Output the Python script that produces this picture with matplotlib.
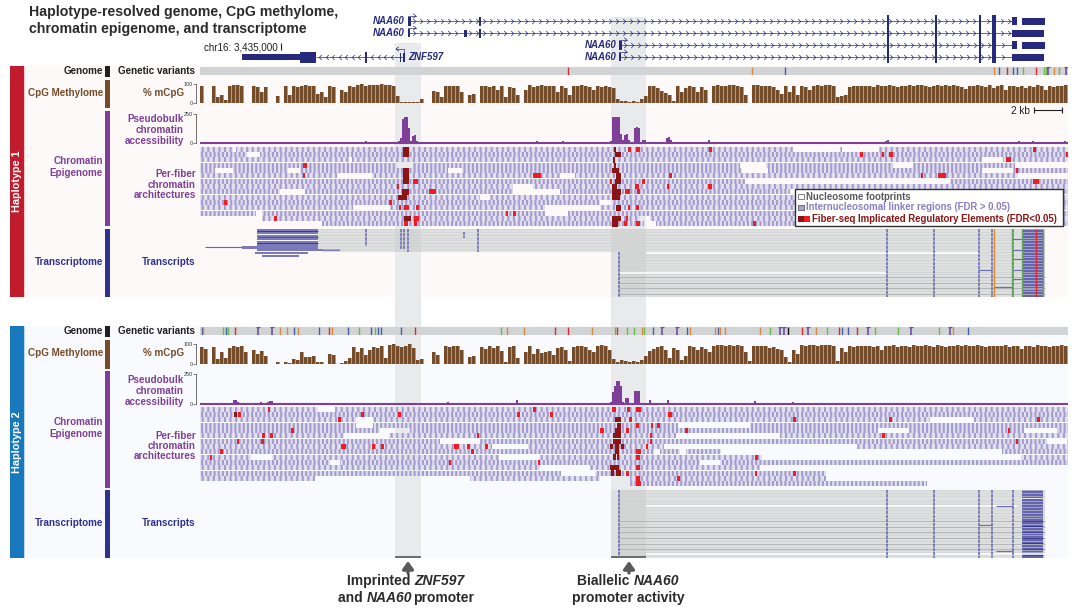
import matplotlib
matplotlib.use("Agg")
import matplotlib.pyplot as plt
from matplotlib.patches import Rectangle
from matplotlib.path import Path
import numpy as np

plt.rcParams['font.family'] = ['Liberation Sans', 'DejaVu Sans']
plt.rcParams['hatch.linewidth'] = 1.5

W, H = 1080, 612
# ---------------- data ----------------
variant1_x = [568, 752, 785, 994, 999, 1007, 1013, 1017, 1023, 1036, 1044, 1046, 1048, 1054, 1059, 1066]
variant1_c = list("robobrbbgrggIogI")
variant2_x = [202, 203, 223, 226, 228, 235, 258, 272, 280, 287, 294, 298, 319, 329, 332, 348, 359, 371, 375, 378, 381,
              401, 415, 501, 507, 524, 555, 568, 592, 615, 617, 627, 634, 642, 644, 653, 662, 677, 687, 690, 715, 718,
              720, 725, 760, 770, 780, 784, 788, 802, 808, 816, 827, 839, 842, 848, 857, 868, 875, 898, 911, 939, 950,
              953, 968]
variant2_c = list("bogbgrIIoobobrobgbgbbbrgoorrogrggogbIIboobooogIIkrIogrbbrIggIgIob")

mcpg1 = [90,0,0,90,30,40,15,90,95,95,92,0,0,90,85,60,85,0,0,35,0,90,40,90,85,
         92,95,90,90,45,60,30,90,85,0,70,60,90,85,95,98,92,95,97,95,98,95,96,92,35,
         5,5,4,5,5,20,0,0,65,60,30,92,90,88,92,60,0,40,50,0,90,88,85,90,70,
         90,30,85,80,40,0,70,95,85,90,95,88,90,92,60,90,80,40,90,92,95,90,85,70,90,
         85,90,85,80,20,10,12,6,8,6,20,35,92,90,80,65,55,40,10,90,60,80,90,85,60,
         85,70,0,92,95,90,92,95,94,90,85,40,0,95,97,92,90,90,85,70,50,90,60,88,40,
         90,85,70,92,95,92,95,97,92,30,35,40,85,90,92,88,90,92,85,95,90,88,95,90,85,
         90,92,94,88,95,97,90,85,92,95,90,93,88,96,92,85,75,88,92,95,90,86,93,80,90,
         95,70,88,90,85,92,78,90,86,94,88,70,92,85,90,88,95]
mcpg2 = [85,75,0,85,25,60,30,80,90,85,90,60,0,70,50,65,40,0,0,8,0,10,5,25,20,
         60,35,35,40,10,12,0,50,45,0,5,15,30,85,60,80,45,70,85,80,90,30,95,98,90,
         85,92,98,80,20,25,0,0,60,45,0,90,85,92,90,70,0,35,40,0,85,75,88,80,92,
         65,10,85,90,30,0,60,90,50,75,55,60,65,45,80,85,70,15,85,88,90,85,70,60,88,
         95,92,70,25,12,20,15,12,14,10,20,40,65,75,85,88,70,30,80,70,20,40,88,85,70,
         85,75,60,92,95,96,92,95,92,94,88,60,15,92,90,88,92,80,85,75,70,35,10,70,50,
         95,92,96,94,90,95,93,97,90,15,80,60,90,85,92,88,90,92,85,88,70,92,90,95,85,
         92,90,85,93,88,92,95,90,85,93,90,85,92,88,93,90,95,92,88,94,90,85,92,88,90,
         90,94,85,92,88,75,92,90,86,94,88,92,85,90,88,94,90]
mcpg_left = 200
mcpg_bin = 4

atac1_x = [223,303,366,397,399,401,403,405,407,409,411,413,415,417,427,537,563,555,611,613,615,617,619,621,623,625,627,629,
           633,635,637,639,641,643,645,667,669,671,709,886,888,890,1019,1026,1033,1065]
atac1_y = [8,12,14,10,18,40,210,220,220,130,20,60,70,15,12,18,14,10,20,220,225,225,220,80,30,70,75,30,
           10,130,140,130,10,30,25,45,50,30,22,15,25,12,15,10,20,20]
atac2_x = [214,234,236,238,261,268,270,272,291,341,398,448,477,517,611,613,615,617,619,621,623,626,628,635,637,639,650,668,
           755,793,882,1009,1016,1030,1065]
atac2_y = [6,30,30,20,18,15,25,22,6,8,8,20,5,30,20,100,150,195,195,150,20,50,50,110,110,110,30,30,25,18,8,10,10,12,8]

fiber1_start = [200]*13 + [262, 322]
fiber1_end = [1068]*15
fiber1_gaps = [
    [(233,236),(793,840),(842,879)],
    [(247,260)],
    [(349,352),(982,1003)],
    [(397,413),(740,766),(893,913),(1015,1068)],
    [(215,233),(288,300),(448,462),(742,768),(982,1013)],
    [(337,372),(560,575),(1018,1068)],
    [(745,950)],
    [(513,533)],
    [(280,305),(513,560),(790,800)],
    [(480,490)],
    [(600,612)],
    [(353,390),(545,600)],
    [(256,262),(545,568)],
    [(640,650)],
    [(644,656)],
]
fire1_row = [0,0,0,0,1,1,1,1,2,3,4,5,5,5,5,5,6,6,6,6,7,7,7,7,8,8,8,10,10,11,11,11,11,11,12,12,13,13,13,14,14,14,14,14]
fire1_x = [628,636,709,1033,860,882,889,1066,1006,303,1016,303,533,669,921,938,413,642,1033,610,397,635,667,708,429,625,637,224,
           389,399,404,416,628,636,506,513,274,414,626,404,414,624,636,753]
fire1_w = [3,4,3,3,3,2,4,2,5,4,2,2,8,3,2,8,5,3,6,2,2,4,2,4,7,5,3,3,3,2,5,3,2,3,2,3,3,5,2,4,3,3,4,3]
dark1_row = [0,1,4,5,6,8,9,13,0,1,2,3,4,5,6,7,8,9,11,13,14]
dark1_x = [403,403,403,403,403,402,398,404,614,615,613,614,612,616,615,612,612,612,616,612,612]
dark1_w = [6,6,6,6,6,7,9,7,2,6,2,2,7,5,6,5,9,8,5,9,6]

fiber2_start = [200]*15
fiber2_end = [1068,1068,1068,1068,1068,1068,1068,1068,1068,1068,1068,816,826,826,927]
fiber2_gaps = [
    [(318,335)],
    [],
    [(356,373),(930,974)],
    [(356,373),(678,750)],
    [(380,410),(878,909),(1024,1057)],
    [(344,389),(676,780)],
    [(440,480),(1047,1067)],
    [(492,528),(664,857)],
    [(654,660),(680,686),(721,1002)],
    [(251,272),(499,540),(762,1021)],
    [(330,340),(700,720)],
    [(540,590),(760,816)],
    [(561,595)],
    [(315,470),(600,630)],
    [(200,630)],
]
fire2_row = [1,1,1,1,1,1,0,0,0,0,0,2,2,2,2,2,3,3,3,4,4,4,4,4,5,5,5,5,5,6,6,6,6,7,7,7,7,7,7,7,8,8,8,9,9,9,9,10,10,11,12,12,12,13,13,14]
fire2_x = [238,361,398,517,550,668,268,533,612,627,636,338,629,793,889,1037,636,651,657,291,600,626,685,1008,262,270,477,650,882,
           237,261,1016,650,341,372,381,454,467,485,646,220,471,636,210,617,755,636,449,538,636,626,755,793,677,636,636]
fire2_w = [3,3,3,3,3,4,2,3,4,3,5,3,3,3,3,3,3,2,3,3,4,3,3,2,3,3,2,2,3,2,3,2,2,5,3,3,5,3,3,2,3,3,5,2,2,3,4,2,2,4,3,2,3,3,4,5]
dark2_row = [1,2,3,4,5,6,7,7,7,8,9,9,11,12,12]
dark2_x = [234,615,617,615,613,613,610,615,621,615,613,617,610,611,616]
dark2_w = [3,6,4,6,8,8,3,4,3,4,3,2,9,3,5]

tx1_grey_start = [318]*6 + [318, 322] + [619]*16
tx1_block_start = [257]*6 + [242, 257, 255, 262]
tx1_block_end = [318]*6 + [318, 340, 308, 299]
tx1_exon_x = [366, 401, 404, 408, 464, 478, 619, 887, 934, 979, 992, 1013]
tx1_exon_first = [0, 0, 0, 0, 1, 0, 8, 0, 0, 0, 0, 0]
tx1_exon_last = [5, 6, 6, 7, 2, 7, 23, 23, 23, 23, 23, 23]
tx1_white = [(8, 646, 979), (15, 620, 887)]
tx1_dark = [16, 18, 20, 22]
tx1_link = [(14, 979, 992), (20, 994, 1012), (3, 1013, 1022), (7, 1013, 1022), (10, 1013, 1022), (14, 1013, 1022), (17, 1013, 1022)]
tx1_variant_x = [994, 1012, 1022, 1043, 1036]
tx1_variant_c = ['#d98a2b', '#5fa85a', '#5fa85a', '#5fa85a', '#e3262e']

tx2_grey_start = [619]*24
tx2_exon_x = [619, 887, 934, 979, 992, 1013]
tx2_white = [(5, 646, 1017), (22, 646, 1045)]
tx2_dark = [10, 12, 14, 16, 18, 20, 23]
tx2_link = [(5, 996, 1013), (12, 979, 992), (21, 996, 1013)]

# ---------------- helpers ----------------
fig = plt.figure(figsize=(W / 100, H / 100), dpi=100, facecolor='white')


def rect_ax(x0, y0, x1, y1, z=1, xlim=None, ylim=None):
    a = fig.add_axes([x0 / W, 1 - y1 / H, (x1 - x0) / W, (y1 - y0) / H], zorder=z)
    a.patch.set_alpha(0)
    a.set_xlim(*(xlim if xlim else (x0, x1)))
    a.set_ylim(*(ylim if ylim else (y1, y0)))
    a.axis('off')
    return a


bg = rect_ax(0, 0, W, H, 0)
top = rect_ax(0, 0, W, H, 20)

NAVY = '#2e3192'
GENE = '#272a7c'
BROWN = '#754c29'
PURPLE = '#7f3f98'
RED = '#c01c2e'
BLUE = '#1878be'
FIRE = '#ee1c25'
DARK = '#8b1414'
VC = {'r': '#e3262e', 'o': '#d98a3c', 'b': '#3f5fb5', 'g': '#6cbb4a', 'I': '#6a4fa3', 'k': '#111111'}

# panels
for y0, y1, c, edge, lab, col in [(66, 297, '#fcf9f8', '#f6c9cc', 'Haplotype 1', RED),
                                  (326, 558, '#f9fafd', '#bcd9ef', 'Haplotype 2', BLUE)]:
    bg.add_patch(Rectangle((24, y0), 1044, y1 - y0, fc=c, ec='none', zorder=0))
    bg.add_patch(Rectangle((24, y0), 1.3, y1 - y0, fc=edge, ec='none', zorder=0.1))
    bg.add_patch(Rectangle((10, y0), 14, y1 - y0, fc=col, ec='none', zorder=0.1))
    top.text(17, (y0 + y1) / 2, lab, color='white', rotation=90, fontsize=7.8, fontweight='bold', ha='center', va='center')

# highlighted promoters
for x0, x1, y0 in [(395, 421, 43), (611, 646, 17)]:
    bg.add_patch(Rectangle((x0, y0), x1 - x0, 558 - y0, fc='#e9eaeb', ec='none', zorder=0.5))
    top.add_patch(Rectangle((x0, 556), x1 - x0, 2.4, fc='#6d6e70', ec='none'))
for x in [408, 629]:
    top.annotate('', xy=(x, 561), xytext=(x, 573),
                 arrowprops=dict(arrowstyle='-|>,head_width=0.32,head_length=0.45', lw=2.4, color='#58595b', shrinkA=0, shrinkB=0))

# side bars
for (y0, y1, c) in [(66, 77, '#231f20'), (80, 108, BROWN), (111, 226, PURPLE), (229, 297, NAVY),
                    (326, 337, '#231f20'), (340, 369, BROWN), (371, 488, PURPLE), (490, 558, NAVY)]:
    bg.add_patch(Rectangle((105, y0), 5, y1 - y0, fc=c, ec='none', zorder=1))

LAB = dict(fontweight='bold', fontsize=7.1, va='center')
for dy, gy, m, p, ch, pf, tr in [(0, 71, 93, (119, 130, 141), (161, 173), (174, 184.5, 195), 262),
                                 (0, 331, 353, (380, 391, 402), (422, 434), (436, 446, 456), 523)]:
    top.text(103, gy, 'Genome', color='#231f20', ha='right', **LAB)
    top.text(118, gy, 'Genetic variants', color='#231f20', ha='left', **LAB)
    top.text(103, m, 'CpG Methylome', color=BROWN, ha='right', **LAB)
    top.text(184, m, '% mCpG', color=BROWN, ha='right', **LAB)
    for yy, s in zip(p, ['Pseudobulk', 'chromatin', 'accessibility']):
        top.text(184, yy, s, color=PURPLE, ha='right', **LAB)
    for yy, s in zip(ch, ['Chromatin', 'Epigenome']):
        top.text(103, yy, s, color=PURPLE, ha='right', **LAB)
    for yy, s in zip(pf, ['Per-fiber', 'chromatin', 'architectures']):
        top.text(196, yy, s, color=PURPLE, ha='right', **LAB)
    top.text(103, tr, 'Transcriptome', color=NAVY, ha='right', **LAB)
    top.text(196, tr, 'Transcripts', color=NAVY, ha='right', **LAB)

# title
top.text(29, 12, 'Haplotype-resolved genome, CpG methylome,', fontsize=10.15, fontweight='bold', color='#2b2b2b', va='center')
top.text(29, 29, 'chromatin epigenome, and transcriptome', fontsize=10.15, fontweight='bold', color='#2b2b2b', va='center')


# variants
def draw_variants(y0, y1, xs, cs):
    a = rect_ax(200, y0, 1068, y1, 3, ylim=(0, 1))
    a.add_patch(Rectangle((200, 0), 868, 1, fc='#d1d3d4', ec='none'))
    for x, c in zip(xs, cs):
        a.vlines(x, 0, 1, color=VC[c], lw=1.0 if c != 'I' else 1.2)
        if c == 'I':
            a.hlines([0.06, 0.94], x - 2, x + 2, color=VC[c], lw=1.0)


draw_variants(67, 75, variant1_x, variant1_c)
draw_variants(327, 335, variant2_x, variant2_c)


# methylation
def draw_mcpg(y100, y0, vals):
    a = rect_ax(196, y100, 1068, y0, 3, xlim=(196, 1068), ylim=(0, 100))
    a.axis('on')
    for s in ['top', 'right', 'bottom']:
        a.spines[s].set_visible(False)
    a.spines['left'].set_color('#6d6e70')
    a.spines['left'].set_linewidth(0.7)
    a.set_xticks([])
    a.set_yticks([0, 100])
    a.tick_params(axis='y', length=2, width=0.6, color='#6d6e70', labelsize=3.9, pad=0.5, labelcolor='#333333')
    x = mcpg_left + np.arange(len(vals)) * mcpg_bin
    a.bar(x, vals, width=mcpg_bin, align='edge', color='#b49a80', lw=0)
    a.bar(x, vals, width=mcpg_bin * 0.85, align='edge', color=BROWN, lw=0)


draw_mcpg(84, 103, mcpg1)
draw_mcpg(344, 364, mcpg2)


# accessibility
def draw_atac(y250, y0, xs, ys):
    a = rect_ax(196, y250, 1068, y0, 3, xlim=(196, 1068), ylim=(0, 250))
    a.axis('on')
    for s in ['top', 'right', 'bottom']:
        a.spines[s].set_visible(False)
    a.spines['left'].set_color('#6d6e70')
    a.spines['left'].set_linewidth(0.7)
    a.set_xticks([])
    a.set_yticks([0, 250])
    a.tick_params(axis='y', length=2, width=0.6, color='#6d6e70', labelsize=3.9, pad=0.5, labelcolor='#333333')
    a.bar(xs, ys, width=2.2, color=PURPLE, lw=0)
    a.plot([200, 1068], [3, 3], color=PURPLE, lw=1.5, solid_capstyle='butt', clip_on=False)


draw_atac(114, 143, atac1_x, atac1_y)
draw_atac(374, 404, atac2_x, atac2_y)


# fibers
HATCHES = ['|||', '||||', '|||', '||||', '||||', '|||', '||||', '|||', '||||', '|||', '||||', '|||', '||||', '|||', '||||']


def draw_fibers(y0, y1, starts, ends, gaps, frow, fx, fw, drow, dx, dw):
    a = rect_ax(200, y0, 1068, y1, 4, ylim=(14.5, -0.5))
    for r, (s, e, g) in enumerate(zip(starts, ends, gaps)):
        cur = s
        segs = []
        for g0, g1 in sorted(g):
            if g0 > cur:
                segs.append((cur, g0))
            cur = max(cur, g1)
        if e > cur:
            segs.append((cur, e))
        for s0, s1 in segs:
            a.barh(r, s1 - s0, left=s0, height=0.9, color='#e2e0ed', edgecolor='#a49bd0', hatch=HATCHES[r], lw=0)
    a.barh(frow, fw, left=fx, height=0.9, color=FIRE, lw=0)
    a.barh(drow, dw, left=dx, height=1.0, color=DARK, lw=0)


draw_fibers(146.5, 226.5, fiber1_start, fiber1_end, fiber1_gaps, fire1_row, fire1_x, fire1_w, dark1_row, dark1_x, dark1_w)
draw_fibers(406.5, 486.5, fiber2_start, fiber2_end, fiber2_gaps, fire2_row, fire2_x, fire2_w, dark2_row, dark2_x, dark2_w)


# transcripts
def draw_tx(y0, y1, grey_start, exon_x, first, last, white, dark, link, highlight):
    a = rect_ax(200, y0, 1068, y1, 3, ylim=(23.5, -0.5))
    rows = np.arange(len(grey_start))
    a.barh(rows, [1045 - g for g in grey_start], left=grey_start, height=1.0, color='#dedfdf', lw=0)
    a.hlines(rows - 0.5, grey_start, 1045, color='#cfd0d1', lw=0.4)
    for r in dark:
        a.hlines(r + 0.4, grey_start[r], 1045, color='#afb0b2', lw=0.6)
    for r, s, e in white:
        a.hlines(r, s, e, color='white', lw=1.1)
    a.barh(rows, 21, left=1022, height=1.0, color='#6465ae', lw=0)
    for x, f, l in zip(exon_x, first, last):
        a.vlines(x, f - 0.5, l + 0.5, color='#6465ae', lw=1.1, linestyles=[(0, (2.2, 0.5))])
    for r, s, e in link:
        a.hlines(r, s, e, color='#6b6cb2', lw=0.8)
    for x0, x1, r0, r1 in highlight:
        a.add_patch(Rectangle((x0, r0 - 0.5), x1 - x0, r1 - r0 + 1, fc='#808285', alpha=0.1, ec='none'))
    return a


t1 = draw_tx(229, 297, tx1_grey_start, tx1_exon_x, tx1_exon_first, tx1_exon_last, tx1_white, tx1_dark, tx1_link,
             [(395, 421, 0, 7), (611, 646, 0, 23)])
t1.barh(np.arange(len(tx1_block_start)), np.array(tx1_block_end) - np.array(tx1_block_start), left=tx1_block_start,
        height=0.82, color='#7a7abb', lw=0)
t1.hlines(6, 205, 242, color='#6364ad', lw=0.8)
t1.hlines(np.arange(0, 6, 2) + 0.3, 257, 318, color=NAVY, lw=0.6)
t1.vlines(tx1_variant_x, -0.5, 23.5, colors=tx1_variant_c, lw=1.0)
t2 = draw_tx(490, 558, tx2_grey_start, tx2_exon_x, [0] * 6, [23] * 6, tx2_white, tx2_dark, tx2_link, [(611, 646, 0, 23)])
t2.hlines(np.arange(10, 24, 2) + 0.3, 1022, 1043, color=NAVY, lw=0.6)

# gene models
CHEV = Path([(-0.5, 1), (0.5, 0), (-0.5, -1)], [Path.MOVETO, Path.LINETO, Path.LINETO])
naa60_y = [21, 33, 45, 57]
naa60_start = [408, 408, 619, 619]
naa60_label_x = [405, 405, 617, 617]
naa60_exons = [
    [(408, 411, 9), (479, 480.5, 9), (887, 888.5, 12), (934.5, 936.5, 12), (978.5, 980.5, 12), (991.5, 995.5, 12), (1012, 1017, 8), (1022, 1045, 7)],
    [(408, 409.5, 8), (464, 467, 7), (479, 480.5, 9), (887, 888.5, 12), (934.5, 936.5, 12), (978.5, 980.5, 12), (991.5, 995.5, 12), (1012, 1044, 7)],
    [(619, 622, 9), (887, 888.5, 12), (934.5, 936.5, 12), (978.5, 980.5, 12), (991.5, 995.5, 12), (1012, 1017, 8), (1022, 1045, 7)],
    [(619, 621, 8), (887, 888.5, 12), (934.5, 936.5, 12), (978.5, 980.5, 12), (991.5, 995.5, 12), (1012, 1044, 7)],
]
for y, s, lx, ex in zip(naa60_y, naa60_start, naa60_label_x, naa60_exons):
    top.hlines(y, s, 1012, color=GENE, lw=0.5)
    px = np.arange(s + 6, 1010, 7)
    px = px[np.all([(px < e0 - 1) | (px > e1 + 1) for e0, e1, _ in ex], axis=0)]
    top.plot(px, np.full(len(px), y), ls='none', marker=CHEV, ms=3.6, mfc='none', mec=GENE, mew=0.5)
    for e0, e1, h in ex:
        top.add_patch(Rectangle((e0, y - h / 2), e1 - e0, h, fc=GENE, ec='none'))
    top.text(lx, y, 'NAA60', style='italic', fontweight='bold', fontsize=7, color=GENE, ha='right', va='center')
    top.plot([s, s, s + 8], [y, y - 5, y - 5], color=GENE, lw=0.5)
    top.plot([s + 5.5, s + 8, s + 5.5], [y - 7, y - 5, y - 3], color=GENE, lw=0.5)

znf_exons = [(242, 300, 6), (300, 316, 11), (365, 366.5, 11), (399.5, 401, 9), (402.5, 405, 9)]
top.hlines(57, 316, 403, color=GENE, lw=0.5)
px = np.arange(320, 398, 6.5)
px = px[(px < 362) | (px > 370)]
top.plot(px, np.full(len(px), 57), ls='none', marker=Path(CHEV.vertices * [-1, 1], CHEV.codes), ms=3.6, mfc='none', mec=GENE, mew=0.5)
for e0, e1, h in znf_exons:
    top.add_patch(Rectangle((e0, 57 - h / 2), e1 - e0, h, fc=GENE, ec='none'))
top.plot([404, 404, 396], [57, 49, 49], color=GENE, lw=0.5)
top.plot([398.5, 396, 398.5], [47, 49, 51], color=GENE, lw=0.5)
top.text(408, 57, 'ZNF597', style='italic', fontweight='bold', fontsize=7, color=GENE, ha='left', va='center')
top.text(204, 47, 'chr16: 3,435,000', fontsize=7.1, color='#231f20', ha='left', va='center')
top.vlines(281, 43, 50, color='#231f20', lw=0.8)

# scale bar
top.text(1030, 111, '2 kb', fontsize=7.2, color='#231f20', ha='right', va='center')
top.hlines(110, 1034, 1062, color='#231f20', lw=0.8)
top.vlines([1034, 1062], 107, 113, color='#231f20', lw=0.8)

# legend
top.add_patch(Rectangle((795, 189), 268, 37, fc='white', ec='#333333', lw=1.0, zorder=5))
top.add_patch(Rectangle((798, 193.5), 6, 5.5, fc='white', ec='#808285', lw=0.7, zorder=6))
top.add_patch(Rectangle((798, 204.5), 6, 5.5, fc='#a9a1d2', ec='#6d6e70', lw=0.7, zorder=6))
top.add_patch(Rectangle((798, 216), 6, 5.5, fc=DARK, ec='none', zorder=6))
top.add_patch(Rectangle((804, 216), 6, 5.5, fc=FIRE, ec='none', zorder=6))
LEG = dict(fontsize=6.95, fontweight='bold', va='center', zorder=7)
top.text(806, 196.5, 'Nucleosome footprints', color='#58595b', **LEG)
top.text(806, 207.5, 'Internucleosomal linker regions (FDR > 0.05)', color='#8a7fc4', **LEG)
top.text(812, 219, 'Fiber-seq Implicated Regulatory Elements (FDR<0.05)', color=DARK, **LEG)


# bottom notes, with mixed upright and italic pieces
def mixed(xc, y, parts):
    r = fig.canvas.get_renderer()
    items = [top.text(0, y, s, fontsize=10, fontweight='bold', style=st, color='#2b2b2b', va='center', ha='left') for s, st in parts]
    ws = [t.get_window_extent(r).width for t in items]
    x = xc - sum(ws) / 2
    for t, w in zip(items, ws):
        t.set_x(x)
        x += w


mixed(406, 581, [('Imprinted ', 'normal'), ('ZNF597', 'italic')])
mixed(406, 598, [('and ', 'normal'), ('NAA60', 'italic'), ('promoter', 'normal')])
mixed(628, 581, [('Biallelic ', 'normal'), ('NAA60', 'italic')])
mixed(628, 598, [('promoter activity', 'normal')])

fig.savefig('out.png', dpi=100)
